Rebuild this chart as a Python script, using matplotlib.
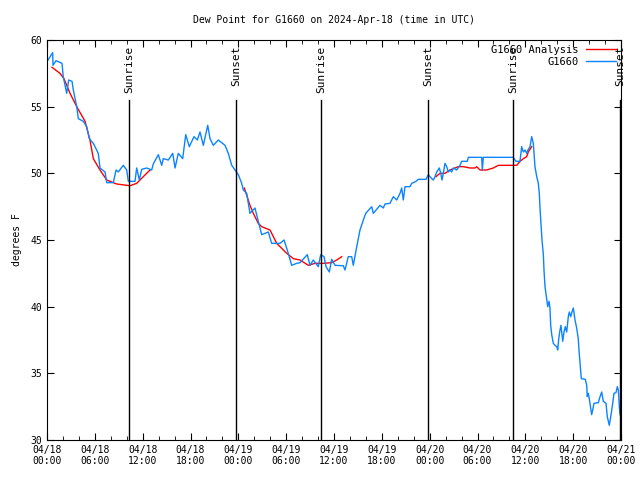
import matplotlib

matplotlib.use("Agg")
import matplotlib.dates as mdates
import matplotlib.pyplot as plt
import numpy as np
import pandas as pd

START = pd.Timestamp("2024-04-18 00:00")

# observed dew point (hours since 04/18 00:00 UTC, degrees F)
obs_hours = [
    0.13, 0.71, 0.75, 1.13, 1.88, 2.04, 2.47, 2.72, 3.14, 3.30, 3.73, 3.93, 4.55, 4.98,
    5.31, 5.81, 6.43, 6.65, 7.28, 7.49, 8.32, 8.66, 8.94, 9.57, 10.0, 10.2, 11.04, 11.25,
    11.58, 11.88, 12.51, 13.13, 13.33, 13.96, 14.39, 14.59, 15.22, 15.77, 16.06, 16.47,
    17.02, 17.40, 17.85, 18.44, 18.85, 19.19, 19.61, 20.16, 20.45, 20.86, 21.49, 22.33,
    22.74, 23.17, 23.58, 24.0, 24.42, 24.62, 25.05, 25.46, 26.09, 26.50, 26.93, 27.76,
    28.18, 29.23, 29.73, 30.14, 30.69, 31.32, 31.74, 32.65, 32.99, 33.40, 34.03, 34.33,
    34.75, 35.0, 35.41, 35.71, 36.13, 37.17, 37.38, 37.79, 38.22, 38.42, 38.85, 39.26,
    39.68, 39.98, 40.73, 40.93, 41.77, 42.18, 42.40, 43.02, 43.44, 43.87, 44.28, 44.49,
    44.69, 44.91, 45.53, 45.75, 46.29, 46.57, 47.54, 47.83, 48.26, 48.46, 48.67, 48.88,
    49.21, 49.39, 49.55, 49.71, 49.92, 50.14, 50.34, 50.55, 50.76, 50.96, 51.39, 51.80,
    52.02, 52.72, 52.85, 54.53, 54.60, 54.73, 58.49, 58.70, 58.83, 59.33, 59.54, 59.75,
    59.96, 60.17, 60.37, 60.59, 60.80, 61.0, 61.21, 61.43, 61.63, 61.75, 61.84, 61.97,
    62.09, 62.26, 62.34, 62.47, 62.68, 62.81, 62.97, 63.09, 63.18, 63.31, 63.51, 63.72,
    63.94, 64.06, 64.19, 64.35, 64.47, 64.69, 64.85, 65.01, 65.19, 65.39, 65.52, 65.69,
    65.85, 66.02, 66.23, 66.44, 66.64, 66.73, 66.86, 67.02, 67.52, 67.70, 67.77, 67.90,
    68.02, 68.20, 68.32, 68.45, 68.61, 69.15, 69.37, 69.58, 69.78, 70.12, 70.28, 70.53,
    70.75, 70.96, 71.12, 71.37, 71.54, 71.67, 71.79, 71.88,
]
obs_values = [
    58.5, 59.05, 58.1, 58.45, 58.25, 57.25, 56.0, 57.0, 56.9, 56.25, 55.0, 54.1, 53.9, 53.5,
    52.6, 52.25, 51.5, 50.4, 50.1, 49.3, 49.3, 50.25, 50.1, 50.6, 50.25, 49.4, 49.4, 50.4,
    49.5, 50.3, 50.4, 50.25, 50.7, 51.4, 50.6, 51.1, 51.0, 51.5, 50.4, 51.5,
    51.1, 52.9, 52.0, 52.75, 52.5, 53.1, 52.1, 53.6, 52.6, 52.1, 52.5, 52.1,
    51.5, 50.6, 50.25, 49.9, 49.25, 48.75, 48.5, 47.0, 47.4, 46.4, 45.4, 45.6,
    44.75, 44.75, 45.0, 44.25, 43.1, 43.25, 43.3, 43.9, 43.1, 43.5, 43.0, 43.9,
    43.75, 43.0, 42.6, 43.55, 43.1, 43.07, 42.75, 43.75, 43.75, 43.1, 44.5, 45.75,
    46.5, 47.0, 47.5, 47.0, 47.6, 47.4, 47.7, 47.75, 48.25, 48.0, 48.5, 48.9,
    48.0, 49.0, 49.0, 49.25, 49.4, 49.55, 49.55, 49.9, 49.6, 49.5, 49.75, 50.1,
    50.4, 50.0, 49.5, 50.0, 50.75, 50.5, 50.1, 50.25, 50.1, 50.4, 50.25, 50.6,
    50.9, 50.9, 51.2, 51.2, 50.25, 51.2, 51.2, 51.0, 50.9, 50.9, 52.0, 51.6,
    51.75, 51.5, 51.8, 52.0, 52.75, 52.25, 50.5, 49.75, 49.25, 48.5, 47.4, 46.1,
    45.0, 43.9, 42.75, 41.5, 40.6, 40.0, 40.4, 39.9, 38.6, 37.9, 37.25, 37.1,
    37.0, 36.75, 37.6, 38.25, 38.6, 37.4, 38.1, 38.5, 38.1, 39.25, 39.6, 39.25,
    39.6, 39.9, 39.0, 38.4, 37.6, 36.75, 35.75, 34.6, 34.55, 34.1, 33.25, 33.5,
    33.1, 32.4, 31.9, 32.25, 32.75, 32.8, 33.25, 33.6, 32.9, 32.75, 31.75, 31.1,
    31.9, 32.75, 33.5, 33.55, 34.0, 33.75, 32.5, 31.9,
]

# analysis curve (NaN marks gaps between analysis windows)
ana_hours = [
    0.63, 1.63, 2.13, 2.89, 3.73, 4.77, 5.39, 5.81, 6.65, 7.49, 8.74, 10.41, 11.25, 12.08,
    12.92, 18.0,
    24.75, 25.46, 25.88, 26.50, 26.93, 27.97, 28.81, 30.07, 30.90, 31.74, 32.78, 33.62,
    34.66, 35.71, 36.34, 36.97, 42.0,
    48.79, 49.30, 49.92, 50.55, 51.59, 52.22, 53.06, 53.69, 53.90, 54.31, 55.15, 55.98,
    56.61, 58.92, 59.33, 59.75, 60.17, 60.37, 60.80,
]
ana_values = [
    57.95, 57.5, 57.1, 56.0, 55.0, 53.9, 52.5, 51.1, 50.25, 49.5, 49.2, 49.07, 49.25, 49.75,
    50.25, np.nan,
    48.9, 47.6, 47.0, 46.25, 46.0, 45.75, 44.75, 44.0, 43.6, 43.5, 43.1, 43.25,
    43.25, 43.3, 43.5, 43.75, np.nan,
    49.75, 50.0, 50.0, 50.25, 50.5, 50.5, 50.4, 50.4, 50.5, 50.25, 50.25, 50.4,
    50.6, 50.6, 50.9, 51.1, 51.25, 51.6, 52.0,
]

sun_hours = [10.29, 23.71, 34.37, 47.79, 58.45, 71.88]
sun_labels = ["Sunrise", "Sunset", "Sunrise", "Sunset", "Sunrise", "Sunset"]

plt.rcParams["font.family"] = "DejaVu Sans Mono"
plt.rcParams["font.size"] = 7


def to_time(hours):
    return START + pd.to_timedelta(np.asarray(hours, dtype=float), unit="h")


fig = plt.figure(figsize=(6.4, 4.8), dpi=100)
ax = fig.add_axes([47 / 640, 40 / 480, 574 / 640, 400 / 480])

ax.plot(to_time(ana_hours), ana_values, color="#ff0000", lw=1.0, label="G1660 Analysis")
ax.plot(to_time(obs_hours), obs_values, color="#0a84ff", lw=1.0, label="G1660")

for h, name in zip(sun_hours, sun_labels):
    t = to_time([h])[0]
    ax.plot([t, t], [30, 55.5], color="black", lw=1.0)
    ax.text(t, 59.6, name, rotation=90, ha="center", va="top", fontsize=8)

ax.set_xlim(START, START + pd.Timedelta(hours=72))
ax.set_ylim(30, 60)
ax.set_yticks(np.arange(30, 61, 5))
ax.xaxis.set_major_locator(mdates.HourLocator(byhour=[0, 6, 12, 18]))
ax.xaxis.set_minor_locator(mdates.HourLocator(interval=2))
ax.xaxis.set_major_formatter(mdates.DateFormatter("%m/%d\n%H:%M"))
ax.tick_params(which="both", direction="in", top=True, right=True, labelsize=7)
ax.tick_params(which="major", length=5)
ax.tick_params(which="minor", length=3)

ax.set_ylabel("degrees F", fontsize=7, labelpad=6)
ax.set_title("Dew Point for G1660 on 2024-Apr-18 (time in UTC)", fontsize=7, pad=12)

ax.legend(loc="upper right", frameon=False, markerfirst=False, handlelength=2.9,
          handletextpad=0.7, borderaxespad=0.35, borderpad=0.1, labelspacing=0.2,
          fontsize=7.5)

fig.savefig("out.png", dpi=100)
